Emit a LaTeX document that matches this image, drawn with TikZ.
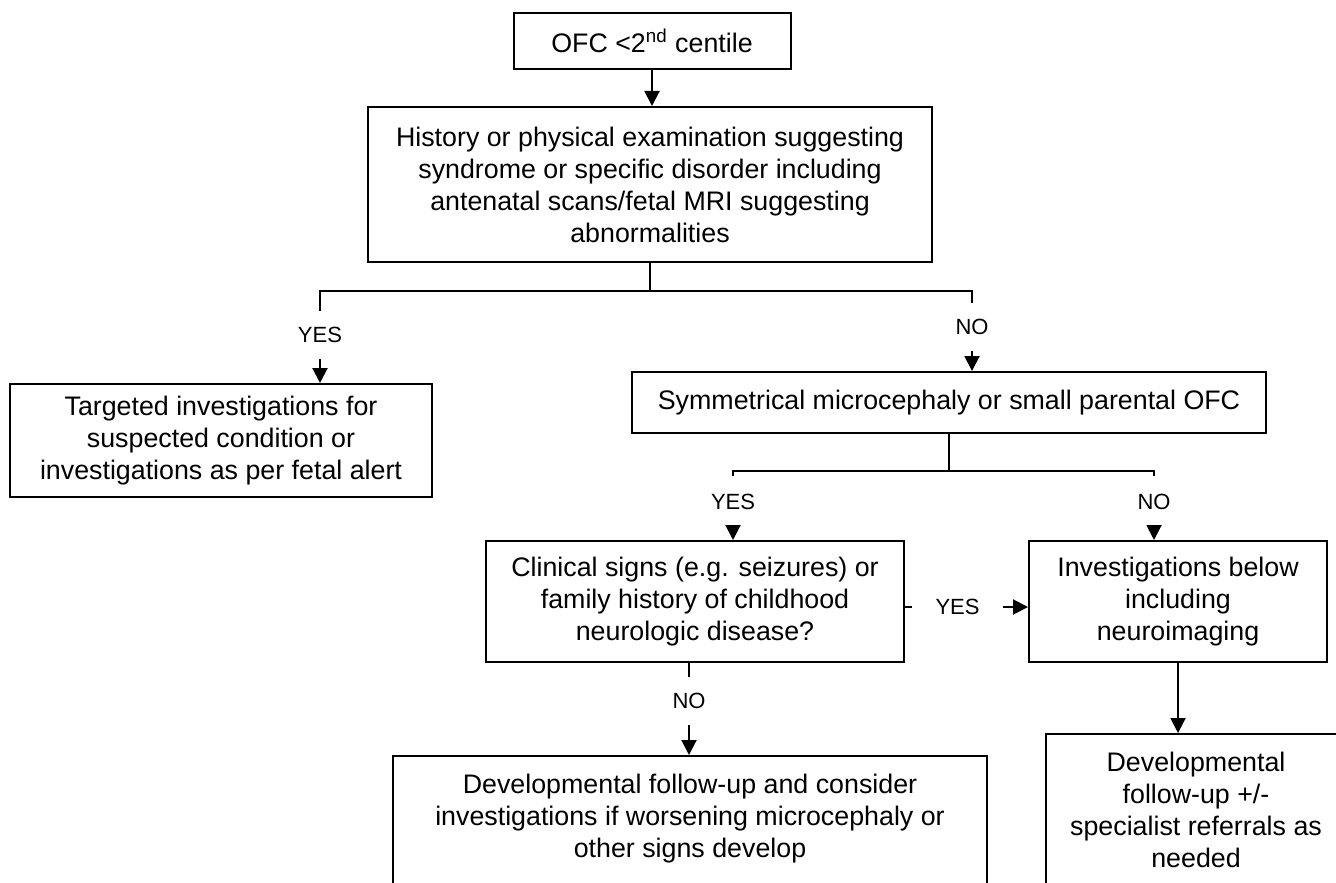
\documentclass[tikz,border=0pt]{standalone}
\usepackage{fontspec}
\setmainfont{Liberation Sans}
\usetikzlibrary{arrows.meta,positioning}
\tikzset{box/.style={draw, rectangle, line width=1pt, align=center, inner sep=4pt, font=\fontsize{13.4}{16}\selectfont}}
\tikzstyle{lbl}=[inner sep=0pt, minimum height=23pt, font=\fontsize{11}{12}\selectfont]

\begin{document}
\begin{tikzpicture}[>={Triangle[width=7.5pt,length=7.5pt]}, line width=1pt, x=0.5pt, y=-0.5pt]
\useasboundingbox (0,0) rectangle (1336,882);
\clip (0,0) rectangle (1336,882);
% boxes
\node[box, minimum width=138.5pt, minimum height=28pt] (ofc) at (652,41) {OFC <2\textsuperscript{nd} centile};
\node[box, minimum width=282pt, minimum height=77.5pt] (hist) at (650,184.5) {History or physical examination suggesting\\ syndrome or specific disorder including\\ antenatal scans/fetal MRI suggesting\\ abnormalities};
\node[box, minimum width=211pt, minimum height=56.5pt] (target) at (221,440.5) {Targeted investigations for\\ suspected condition or\\ investigations as per fetal alert};
\node[box, minimum width=317pt, minimum height=30.5pt] (symm) at (949,402.5) {Symmetrical microcephaly or small parental OFC};
\node[box, minimum width=209pt, minimum height=60.5pt] (clin) at (695,601.5) {Clinical signs (e.g. seizures) or\\ family history of childhood\\ neurologic disease?};
\node[box, minimum width=149pt, minimum height=60.5pt] (invest) at (1178,601.5) {Investigations below\\ including\\ neuroimaging};
\node[box, anchor=north, minimum width=297pt, inner ysep=9pt, text depth=150pt] (devL) at (690,755) {Developmental follow-up and consider\\ investigations if worsening microcephaly or\\ other signs develop};
\node[box, anchor=north, minimum width=150pt, inner ysep=9pt, text depth=150pt] (devR) at (1196,733) {Developmental\\ follow-up +/-\\ specialist referrals as\\ needed};
% labels
\node[lbl] (yes1) at (320,335) {YES};
\node[lbl] (no1) at (972,326.5) {NO};
\node[lbl, minimum height=25pt] (yes2) at (733,502) {YES};
\node[lbl, minimum height=25pt] (no2) at (1154,502) {NO};
\node[lbl, minimum height=0pt, minimum width=44.5pt] (yes3) at (957.5,607) {YES};
\node[lbl] (no3) at (689,701) {NO};
\coordinate (split1) at (650,291);
\coordinate (split2) at (949,471);
% connectors
\draw[->] (ofc.south) -- (ofc.south |- hist.north);
\draw (hist.south) -- (split1);
\draw (yes1.north) |- (split1) -| (no1.north);
\draw[->] (yes1.south) -- (yes1.south |- target.north);
\draw[->] (no1.south) -- (no1.south |- symm.north);
\draw (symm.south) -- (split2);
\draw (yes2.north) |- (split2) -| (no2.north);
\draw[->] (yes2.south) -- (yes2.south |- clin.north);
\draw[->] (no2.south) -- (no2.south |- invest.north);
\draw (yes3.west -| clin.east) -- (yes3.west);
\draw[->] (yes3.east) -- (yes3.east -| invest.west);
\draw (no3.north |- clin.south) -- (no3.north);
\draw[->] (no3.south) -- (no3.south |- devL.north);
\draw[->] (invest.south) -- (invest.south |- devR.north);
\end{tikzpicture}
\end{document}
